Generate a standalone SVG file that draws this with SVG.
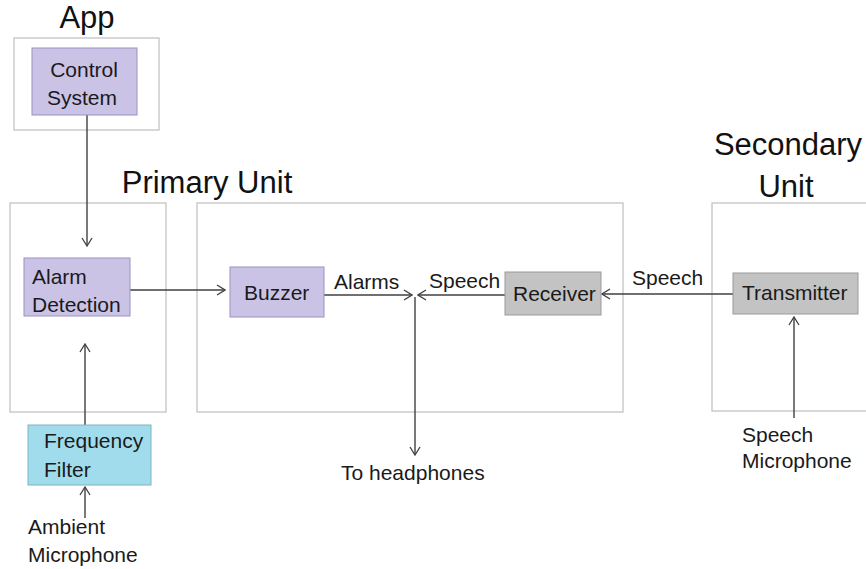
<svg xmlns="http://www.w3.org/2000/svg" width="866" height="569" viewBox="0 0 866 569">
<style>
.t{font-family:"Liberation Sans",Arial,sans-serif;font-size:21px;fill:#1a1a1a}
.h{font-family:"Liberation Sans",Arial,sans-serif;font-size:31px;fill:#111}
.c{fill:#fff;stroke:#bfbfbf;stroke-width:1.2}
.p{fill:#cbc3e6;stroke:#9a91c0;stroke-width:1}
.g{fill:#c3c3c3;stroke:#9a9a9a;stroke-width:1}
.b{fill:#a0dcec;stroke:#7fb3c2;stroke-width:1}
.l{fill:none;stroke:#404040;stroke-width:1.4}
</style>
<defs>
<marker id="a" viewBox="0 0 10 12" refX="9" refY="6" markerWidth="10" markerHeight="12" markerUnits="userSpaceOnUse" orient="auto">
<path d="M1,1 L9,6 L1,11" fill="none" stroke="#404040" stroke-width="1.3"/>
</marker>
</defs>
<g id="containers">
<rect class="c" x="14" y="38" width="145" height="92"/>
<rect class="c" x="10" y="203" width="156" height="209"/>
<rect class="c" x="197" y="203" width="426" height="209"/>
<rect class="c" x="712" y="203" width="160" height="208"/>
</g>
<g id="titles">
<text class="h" x="87" y="28" text-anchor="middle">App</text>
<text class="h" x="207" y="193" text-anchor="middle">Primary Unit</text>
<text class="h" x="788" y="155" text-anchor="middle">Secondary</text>
<text class="h" x="786" y="197" text-anchor="middle">Unit</text>
</g>
<g id="connectors">
<line class="l" x1="87" y1="115" x2="87" y2="246" marker-end="url(#a)"/>
<line class="l" x1="85" y1="425" x2="85" y2="344" marker-end="url(#a)"/>
<line class="l" x1="85" y1="518" x2="85" y2="487" marker-end="url(#a)"/>
<line class="l" x1="130" y1="290" x2="225" y2="290" marker-end="url(#a)"/>
<line class="l" x1="324" y1="295" x2="412" y2="295" marker-end="url(#a)"/>
<line class="l" x1="505" y1="295" x2="418" y2="295" marker-end="url(#a)"/>
<line class="l" x1="415" y1="297" x2="415" y2="455" marker-end="url(#a)"/>
<line class="l" x1="733" y1="294" x2="602" y2="294" marker-end="url(#a)"/>
<line class="l" x1="794" y1="418" x2="794" y2="317" marker-end="url(#a)"/>
</g>
<g id="control-system">
<rect class="p" x="32" y="48" width="105" height="67"/>
<text class="t" x="84" y="77" text-anchor="middle">Control</text>
<text class="t" x="82" y="105" text-anchor="middle">System</text>
</g>
<g id="alarm-detection">
<rect class="p" x="24" y="258" width="106" height="58"/>
<text class="t" x="32" y="284">Alarm</text>
<text class="t" x="32" y="312">Detection</text>
</g>
<g id="frequency-filter">
<rect class="b" x="28" y="425" width="123" height="60"/>
<text class="t" x="44" y="448">Frequency</text>
<text class="t" x="44" y="477">Filter</text>
</g>
<g id="ambient-microphone">
<text class="t" x="28" y="534">Ambient</text>
<text class="t" x="28" y="562">Microphone</text>
</g>
<g id="buzzer">
<rect class="p" x="230" y="267" width="94" height="50"/>
<text class="t" x="244" y="300">Buzzer</text>
</g>
<g id="receiver">
<rect class="g" x="505" y="272" width="96" height="43"/>
<text class="t" x="513" y="301">Receiver</text>
</g>
<g id="transmitter">
<rect class="g" x="733" y="273" width="125" height="41"/>
<text class="t" x="742" y="300">Transmitter</text>
</g>
<g id="labels">
<text class="t" x="334" y="289">Alarms</text>
<text class="t" x="429" y="288">Speech</text>
<text class="t" x="632" y="285">Speech</text>
<text class="t" x="341" y="480">To headphones</text>
<text class="t" x="742" y="442">Speech</text>
<text class="t" x="742" y="468">Microphone</text>
</g>
</svg>
